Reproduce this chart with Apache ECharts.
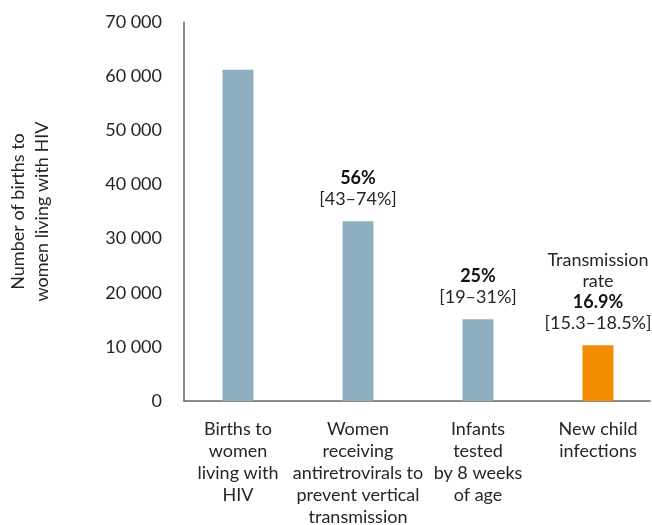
<!DOCTYPE html>
<html>
<head>
<meta charset="utf-8">
<script src="https://cdn.jsdelivr.net/npm/echarts@6/dist/echarts.min.js"></script>
<style>
html,body{margin:0;padding:0;background:#fff;}
#chart{width:652px;height:525px;}
</style>
</head>
<body>
<div id="chart"></div>
<script>
const categories = [
  "Births to\nwomen\nliving with\nHIV",
  "Women\nreceiving\nantiretrovirals to\nprevent vertical\ntransmission",
  "Infants\ntested\nby 8 weeks\nof age",
  "New child\ninfections"
];
const values = [61200, 33200, 15100, 10300];
const barColors = ["#8DAFBF", "#8DAFBF", "#8DAFBF", "#F28C00"];
const preLabels = ["", "", "", "Transmission\nrate"];
const percents = ["", "56%", "25%", "16.9%"];
const ranges = ["", "[43–74%]", "[19–31%]", "[15.3–18.5%]"];
const yTicks = [0, 10000, 20000, 30000, 40000, 50000, 60000, 70000];
const yName = "Number of births to\nwomen living with HIV";

const FONT = "Lato";
const TXT = "#262626";
const FS = 18;

const chart = echarts.init(document.getElementById('chart'), null, {renderer: 'canvas'});

function fmtTick(v) {
  return String(v).replace(/\B(?=(\d{3})+(?!\d))/g, ' ');
}

const barData = values.map((v, i) => {
  const parts = [];
  if (preLabels[i]) parts.push(preLabels[i].split('\n').map(s => '{n|' + s + '}').join('\n'));
  if (percents[i]) parts.push('{b|' + percents[i] + '}');
  if (ranges[i]) parts.push('{n|' + ranges[i] + '}');
  return {
    value: v,
    itemStyle: {color: barColors[i]},
    label: {
      show: parts.length > 0,
      formatter: parts.join('\n')
    }
  };
});

const option = {
  animation: false,
  textStyle: {fontFamily: FONT},
  grid: [
    {left: 178, width: 480, top: 22, bottom: 124, containLabel: false, outerBoundsMode: 'none'},
    {left: 184, right: 2, top: 22, bottom: 124, containLabel: false, outerBoundsMode: 'none'}
  ],
  xAxis: [
    {
      type: 'category', gridIndex: 0, data: categories,
      axisLine: {show: false}, axisTick: {show: false},
      axisLabel: {
        color: TXT, fontFamily: FONT, fontSize: FS, lineHeight: 22,
        margin: 17, interval: 0, hideOverlap: false
      }
    },
    {
      type: 'value', gridIndex: 1, min: 0, max: 1,
      axisLine: {show: true, lineStyle: {color: '#666', width: 1.5}},
      axisTick: {show: false}, axisLabel: {show: false}, splitLine: {show: false}
    }
  ],
  yAxis: [
    {
      type: 'value', gridIndex: 0, min: 0, max: 70000, interval: 10000,
      show: false, splitLine: {show: false}
    },
    {
      type: 'value', gridIndex: 1, min: 0, max: 70000, interval: 10000,
      axisLine: {show: true, lineStyle: {color: '#666', width: 1.5}},
      axisTick: {show: false}, splitLine: {show: false},
      axisLabel: {
        color: TXT, fontFamily: FONT, fontSize: FS, margin: 22,
        formatter: v => fmtTick(v)
      },
      name: yName, nameLocation: 'middle', nameGap: 130, nameRotate: 90,
      nameTextStyle: {color: TXT, fontFamily: FONT, fontSize: FS, lineHeight: 24, align: 'center'}
    }
  ],
  series: [
    {
      type: 'bar', xAxisIndex: 0, yAxisIndex: 0,
      data: barData, barWidth: 31,
      label: {
        position: 'top', distance: 12, align: 'center',
        rich: {
          b: {fontFamily: FONT, fontSize: FS, fontWeight: 'bold', color: '#111', lineHeight: 21, align: 'center'},
          n: {fontFamily: FONT, fontSize: FS, color: TXT, lineHeight: 21, align: 'center'}
        }
      }
    }
  ]
};
chart.setOption(option);
</script>
</body>
</html>
